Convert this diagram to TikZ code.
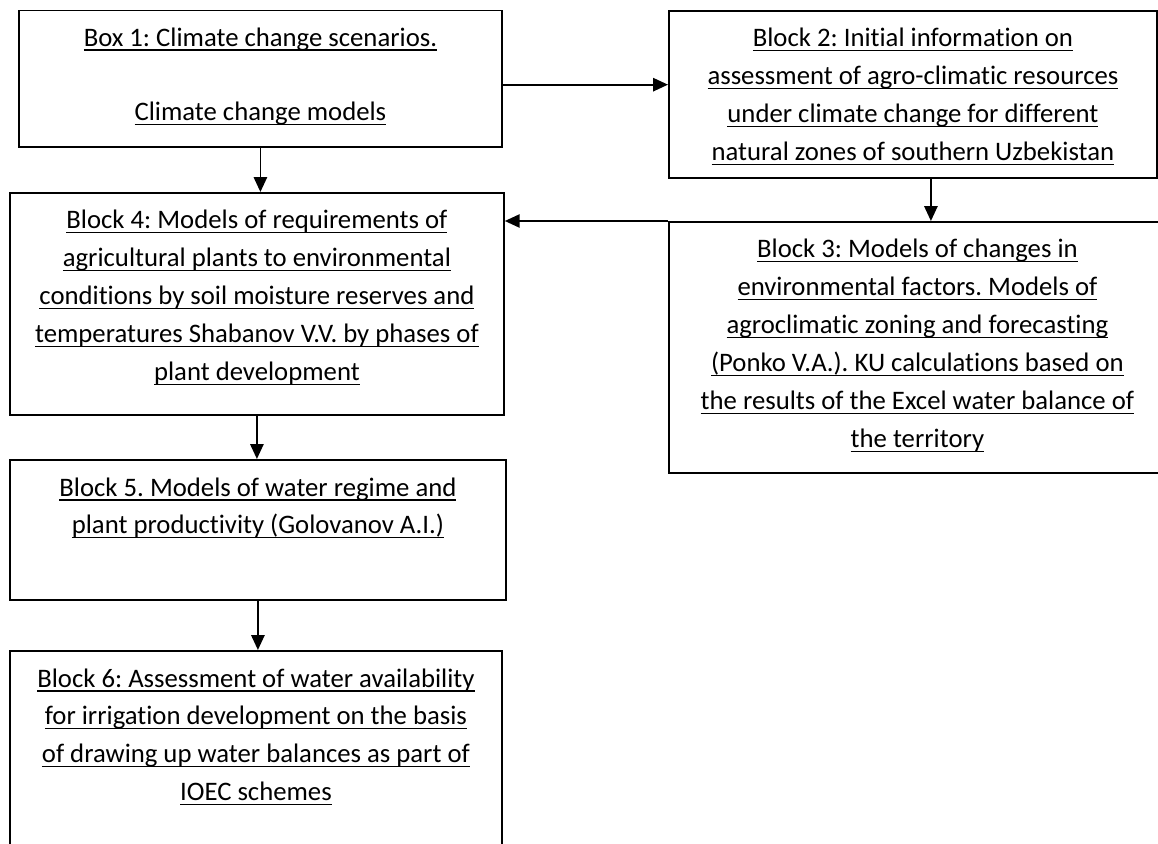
\documentclass[tikz,border=0pt]{standalone}
\usepackage{fontspec}
\setmainfont{Carlito}[Ligatures=NoCommon]
\usetikzlibrary{arrows.meta}
\frenchspacing
\newlength{\pxu}
\setlength{\pxu}{0.025cm}
% one underlined line of a block
\newcommand{\ulin}[1]{\leavevmode\setbox0\hbox{#1}\rlap{\rule[-3.2pt]{\wd0}{1.1pt}}\box0\par}
% text of a block: width, height (in px of the scheme), lines
\newcommand{\blocktext}[3]{\parbox[c][#2\pxu][t]{#1\pxu}{\centering\fontsize{19pt}{27pt}\selectfont\vspace*{9.5\pxu}\strut #3}}
\tikzset{blk/.style={draw,line width=1.3pt,anchor=north west,inner sep=0pt}}
\begin{document}
\begin{tikzpicture}[>={Triangle[length=0.37cm,width=0.33cm]},x=0.025cm,y=-0.025cm,line width=1.3pt]
	\useasboundingbox (0,0) rectangle (1158,843);
	\clip (0,0) rectangle (1158,843);
	% blocks
	\node[blk] (b1) at (18,9.5) {\blocktext{483}{136.5}{\ulin{Box 1: Climate change scenarios.}\vspace{0.91cm}\ulin{Climate change models}}};
	\node[blk] (b2) at (668,10) {\blocktext{488}{167}{\ulin{Block 2: Initial information on}\ulin{assessment of agro-climatic resources}\ulin{under climate change for different}\ulin{natural zones of southern Uzbekistan}}};
	\node[blk] (b3) at (668,221) {\blocktext{497}{251}{\ulin{Block 3: Models of changes in}\ulin{environmental factors. Models of}\ulin{agroclimatic zoning and forecasting}\ulin{(Ponko V.A.). KU calculations based on}\ulin{the results of the Excel water balance of}\ulin{the territory}}};
	\node[blk] (b4) at (9,192) {\blocktext{494}{222}{\ulin{Block 4: Models of requirements of}\ulin{agricultural plants to environmental}\ulin{conditions by soil moisture reserves and}\ulin{temperatures Shabanov V.V. by phases of}\ulin{plant development}}};
	\node[blk] (b5) at (9,459) {\blocktext{496}{140}{\ulin{Block 5. Models of water regime and}\ulin{plant productivity (Golovanov A.I.)}}};
	\node[blk] (b6) at (9,650) {\blocktext{492}{225}{\ulin{Block 6: Assessment of water availability}\ulin{for irrigation development on the basis}\ulin{of drawing up water balances as part of}\ulin{IOEC schemes}}};
	% arrows
	\draw[->] ([yshift=-0.15cm]b1.east) -- ([yshift=-0.15cm]b1.east -| b2.west);
	\draw[->] (b1.south) -- (b1.south |- b4.north);
	\draw[->] ([xshift=0.45cm]b2.south) -- ([xshift=0.45cm]b2.south |- b3.north);
	\draw[->] (b3.north west) -- (b3.north west -| b4.east);
	\draw[->] (b4.south) -- (b4.south |- b5.north);
	\draw[->] (b5.south) -- (b5.south |- b6.north);
\end{tikzpicture}
\end{document}
